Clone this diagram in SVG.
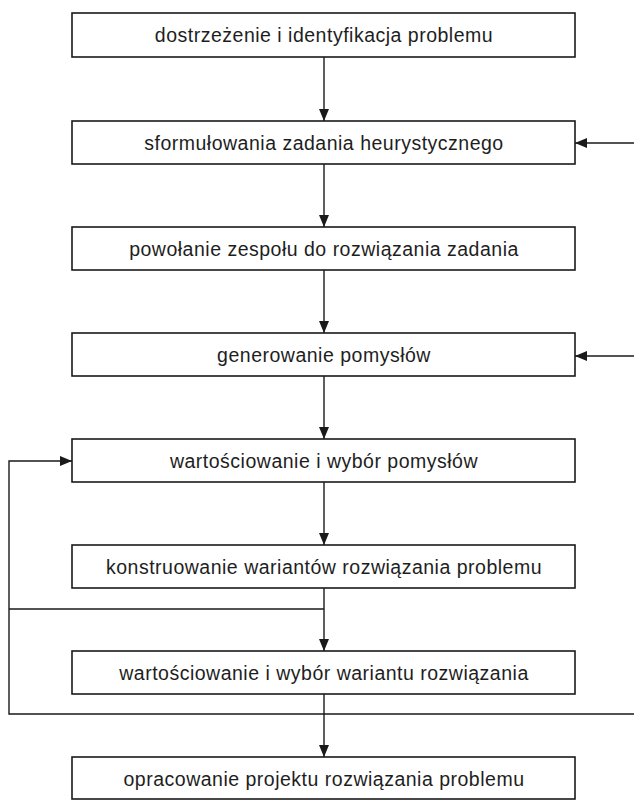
<svg xmlns="http://www.w3.org/2000/svg" width="634" height="800" viewBox="0 0 634 800">
  <style>
    .box { fill: #ffffff; stroke: #1a1a1a; stroke-width: 1.6; }
    .lbl { font-family: "Liberation Sans", Arial, sans-serif; font-size: 19.5px; letter-spacing: 0.5px; fill: #1e1e1e; text-anchor: middle; }
    .ln { fill: none; stroke: #1a1a1a; stroke-width: 1.4; }
    .arr { marker-end: url(#head); }
  </style>
  <defs>
    <marker id="head" markerWidth="12" markerHeight="12" viewBox="0 0 12 12" refX="12" refY="6" orient="auto" markerUnits="userSpaceOnUse">
      <path d="M0,1 L12,6 L0,11 Z" fill="#1a1a1a"/>
    </marker>
  </defs>
  <rect width="634" height="800" fill="#ffffff"/>

  <g id="connectors">
    <!-- main downward flow -->
    <line class="ln arr" x1="324" y1="57" x2="324" y2="121"/>
    <line class="ln arr" x1="324" y1="164" x2="324" y2="227"/>
    <line class="ln arr" x1="324" y1="270" x2="324" y2="333"/>
    <line class="ln arr" x1="324" y1="376" x2="324" y2="439"/>
    <line class="ln arr" x1="324" y1="482" x2="324" y2="545"/>
    <line class="ln arr" x1="324" y1="588" x2="324" y2="651"/>
    <line class="ln arr" x1="324" y1="694" x2="324" y2="757"/>
    <!-- returns entering from the right -->
    <line class="ln arr" x1="634" y1="143" x2="575" y2="143"/>
    <line class="ln arr" x1="634" y1="356" x2="575" y2="356"/>
    <!-- evaluation loop on the left -->
    <polyline class="ln arr" points="634,714 9,714 9,461 72,461"/>
    <line class="ln" x1="9" y1="609" x2="324" y2="609"/>
  </g>

  <g id="n1"><rect class="box" x="72" y="13" width="503" height="44"/><text class="lbl" x="324" y="42">dostrzeżenie i identyfikacja problemu</text></g>
  <g id="n2"><rect class="box" x="72" y="121" width="503" height="43"/><text class="lbl" x="324" y="150">sformułowania zadania heurystycznego</text></g>
  <g id="n3"><rect class="box" x="72" y="227" width="503" height="43"/><text class="lbl" x="324" y="256">powołanie zespołu do rozwiązania zadania</text></g>
  <g id="n4"><rect class="box" x="72" y="333" width="503" height="43"/><text class="lbl" x="324" y="362">generowanie pomysłów</text></g>
  <g id="n5"><rect class="box" x="72" y="439" width="503" height="43"/><text class="lbl" x="324" y="468">wartościowanie i wybór pomysłów</text></g>
  <g id="n6"><rect class="box" x="72" y="545" width="503" height="43"/><text class="lbl" x="324" y="574">konstruowanie wariantów rozwiązania problemu</text></g>
  <g id="n7"><rect class="box" x="72" y="651" width="503" height="43"/><text class="lbl" x="324" y="680">wartościowanie i wybór wariantu rozwiązania</text></g>
  <g id="n8"><rect class="box" x="72" y="757" width="503" height="42"/><text class="lbl" x="324" y="786">opracowanie projektu rozwiązania problemu</text></g>
</svg>
